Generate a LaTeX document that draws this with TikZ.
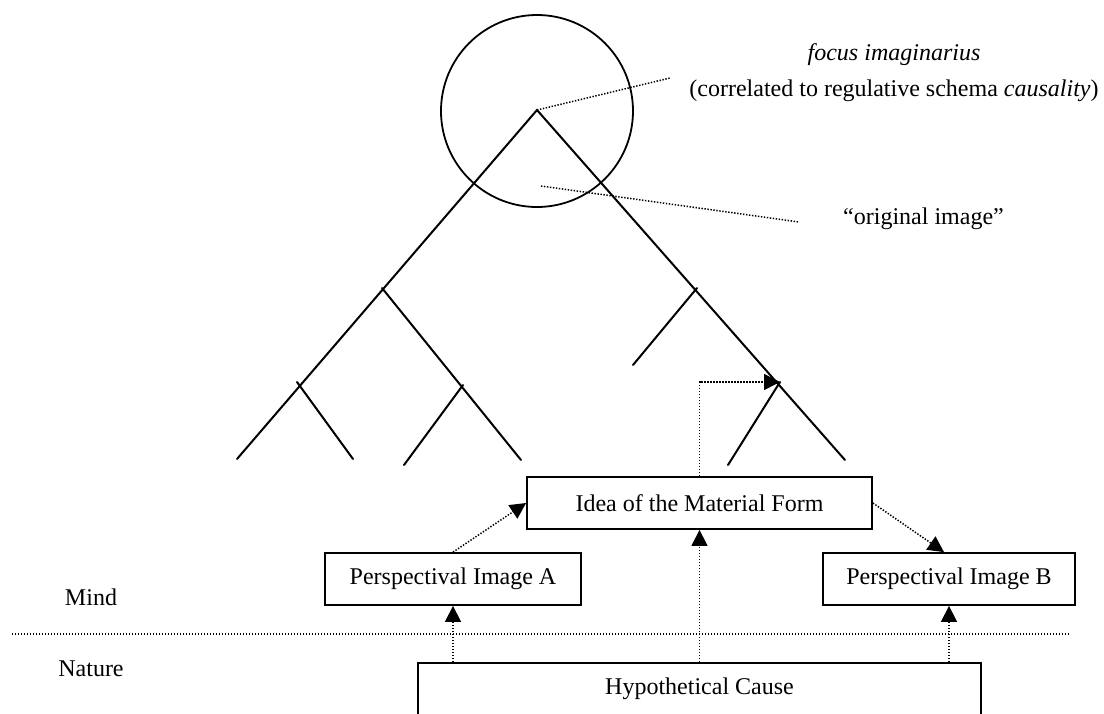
\documentclass[tikz,border=0pt]{standalone}
\usepackage{fontspec}
\setmainfont{Liberation Serif}
\usetikzlibrary{arrows.meta,calc}
\begin{document}
\begin{tikzpicture}[x=1pt,y=-1pt,
  solidline/.style={line width=2pt,line cap=round},
  dotline/.style={line width=1.5pt,dash pattern=on 1.4pt off 1.6pt},
  dotarrow/.style={dotline,-{Triangle[width=16pt,length=16pt]}},
  box/.style={draw,line width=1.8pt,minimum height=52pt,inner sep=0pt,font=\fontsize{24}{28}\selectfont},
  lbl/.style={inner sep=0pt,font=\fontsize{24}{28}\selectfont}]
\useasboundingbox (0,0) rectangle (1104,713);
% tree coordinates
\coordinate (apex) at (537,110);
\coordinate (L1) at (382,288);
\coordinate (L2) at (297,382);
\coordinate (Lend) at (237,459);
\coordinate (L2leaf) at (353,459);
\coordinate (L3) at (463,385);
\coordinate (L3end) at (521,460);
\coordinate (L3leaf) at (404,465);
\coordinate (R1) at (697,288);
\coordinate (R1leaf) at (633,365);
\coordinate (R2) at (780,382);
\coordinate (R2leaf) at (728,465);
\coordinate (Rend) at (845,460);
% circle
\node (circ) [draw,circle,line width=1.8pt,minimum size=192pt,inner sep=0pt] at (537,111) {};
% tree
\draw[solidline] (Lend) -- (apex) -- (Rend);
\draw[solidline] (L1) -- (L3end);
\draw[solidline] (L2) -- (L2leaf);
\draw[solidline] (L3) -- (L3leaf);
\draw[solidline] (R1) -- (R1leaf);
\draw[solidline] (R2) -- (R2leaf);
% labels top
\node (focus) [lbl,align=center,font=\fontsize{24}{36}\selectfont] at (894,73)
  {\textit{focus imaginarius}\\(correlated to regulative schema \textit{causality})};
\coordinate (fp) at (670,78);
\draw[dotline] (apex) -- (fp);
\node (orig) [lbl,anchor=west] at (843,219) {“original image”};
\coordinate (op1) at (541,186);
\coordinate (op2) at (799,222);
\draw[dotline] (op1) -- (op2);
% boxes
\node (idea) [box,minimum width=345pt] at (699.5,503) {Idea of the Material Form};
\node (pa) [box,minimum width=256pt] at (453,579) {Perspectival Image A};
\node (pb) [box,minimum width=252pt] at (949,579) {Perspectival Image B};
\node (hyp) [box,minimum width=563pt] at (699.5,689) {Hypothetical Cause};
% side labels
\node (mind) [lbl] at (91,597) {Mind};
\node (nature) [lbl] at (91,669) {Nature};
\coordinate (d1) at (12,634);
\coordinate (d2) at (1070,634);
\draw[dotline] (d1) -- (d2);
% arrows
\draw[dotarrow] (pa.north) -- (idea.west);
\draw[dotarrow] (idea.east) -- ([xshift=-5pt]pb.north);
\draw[dotarrow] (pa.south |- hyp.north) -- (pa.south);
\draw[dotarrow] (idea.south |- hyp.north) -- (idea.south);
\draw[dotarrow] (pb.south |- hyp.north) -- (pb.south);
\draw[dotarrow] (idea.north) |- (R2);
\end{tikzpicture}
\end{document}
